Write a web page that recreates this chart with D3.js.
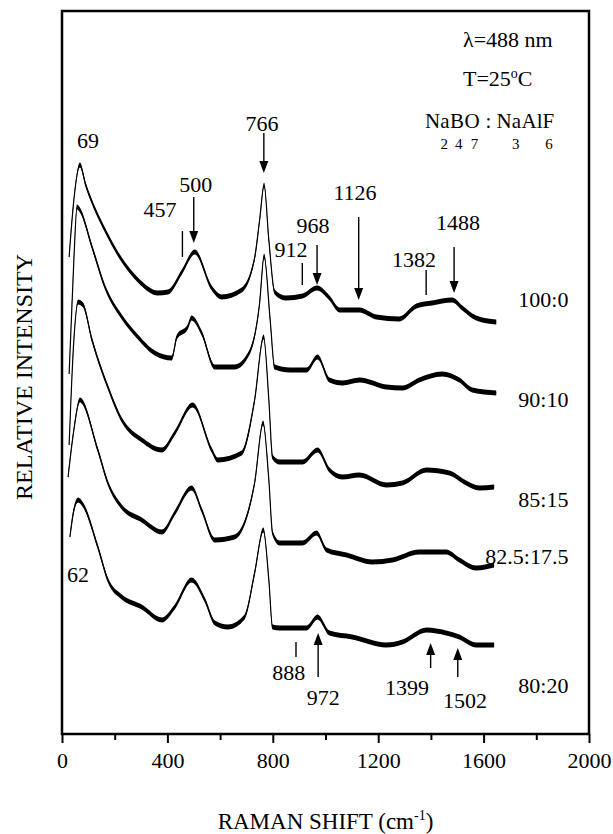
<!DOCTYPE html>
<html>
<head>
<meta charset="utf-8">
<script src="https://cdn.jsdelivr.net/npm/d3@7/dist/d3.min.js"></script>
<style>
  body { margin: 0; background: #fff; }
  svg text { font-family: "Liberation Serif", "Times New Roman", serif; fill: #000; }
</style>
</head>
<body>
<script>
/*
 * Raman spectra of Na2B4O7 : Na3AlF6 melts, stacked traces.
 */

const CANVAS_WIDTH = 613;
const CANVAS_HEIGHT = 834;
const PLOT_LEFT = 62;
const PLOT_RIGHT = 589;
const PLOT_TOP = 11;
const PLOT_BOT = 734;

// x ticks (cm-1)
const MAJOR_TICKS = [0, 400, 800, 1200, 1600, 2000];
const MINOR_TICKS = [200, 600, 1000, 1400, 1800];

// stacked traces: [raman shift (cm-1), relative intensity (offset incl.)]
const trace100 = [
  [27, 477], [45, 534], [68, 569], [90, 549], [130, 522], [163, 504], [227, 474],
  [288, 454], [364, 441], [402, 442], [455, 462], [504, 482], [568, 446], [606, 437],
  [682, 444], [731, 476], [750, 514], [767, 549], [785, 494], [807, 442], [850, 436],
  [913, 438], [968, 446], [1015, 436], [1053, 424], [1129, 424], [1193, 417],
  [1280, 415], [1345, 428], [1405, 431], [1481, 434], [1519, 426], [1572, 416], [1648, 412]
];
const trace90 = [
  [27, 360], [45, 474], [57, 527], [68, 524], [114, 487], [163, 447], [227, 417],
  [288, 397], [352, 381], [417, 376], [436, 397], [477, 407], [492, 416], [530, 401],
  [580, 367], [655, 367], [712, 382], [750, 431], [767, 478], [790, 414], [807, 367],
  [864, 364], [928, 364], [970, 377], [1015, 354], [1064, 351], [1129, 354],
  [1231, 347], [1292, 346], [1356, 354], [1443, 360], [1508, 354], [1557, 344], [1648, 341]
];
const trace85 = [
  [27, 289], [45, 394], [61, 432], [80, 429], [114, 394], [174, 347], [227, 314],
  [303, 294], [379, 284], [428, 301], [496, 329], [568, 284], [591, 274], [682, 281],
  [731, 334], [765, 397], [785, 334], [799, 277], [826, 272], [913, 272], [970, 284],
  [1015, 264], [1064, 257], [1129, 259], [1231, 249], [1292, 251], [1383, 264],
  [1470, 261], [1534, 251], [1583, 246], [1640, 247]
];
const trace82 = [
  [23, 257], [45, 304], [68, 334], [136, 284], [174, 251], [227, 227], [303, 214],
  [379, 202], [428, 221], [492, 246], [530, 224], [580, 194], [655, 197], [705, 221],
  [731, 251], [763, 311], [785, 254], [799, 201], [826, 191], [913, 191], [966, 201],
  [1004, 184], [1080, 179], [1178, 172], [1254, 174], [1356, 182], [1458, 182],
  [1508, 174], [1572, 166], [1640, 169]
];
const trace80 = [
  [30, 197], [45, 224], [61, 234], [80, 229], [136, 187], [174, 154], [227, 137],
  [303, 127], [379, 114], [428, 127], [492, 154], [542, 134], [580, 111], [629, 107],
  [693, 117], [731, 161], [764, 204], [785, 154], [799, 107], [826, 106], [928, 106],
  [970, 117], [1015, 101], [1102, 97], [1231, 89], [1292, 92], [1383, 104],
  [1458, 101], [1508, 97], [1572, 89], [1640, 89]
];

const TRACES = [trace100, trace90, trace85, trace82, trace80];
const TRACE_NAMES = ['100:0', '90:10', '85:15', '82.5:17.5', '80:20'];
const NAME_LEVELS = [427, 327, 227, 170, 41];

// peak marks: wavenumber, label, kind, line top/bottom, label pos (cm-1, intensity)
const PEAK_MARKS = [
  { w: 766, text: '766', kind: 'down', y0: 601, y1: 561, lx: 759, ly: 603 },
  { w: 500, text: '500', kind: 'down', y0: 537, y1: 491, lx: 508, ly: 542 },
  { w: 457, text: '457', kind: 'tick', y0: 503, y1: 477, lx: 372, ly: 517 },
  { w: 912, text: '912', kind: 'tick', y0: 471, y1: 449, lx: 869, ly: 477 },
  { w: 968, text: '968', kind: 'down', y0: 489, y1: 449, lx: 953, ly: 501 },
  { w: 1126, text: '1126', kind: 'down', y0: 517, y1: 434, lx: 1112, ly: 534 },
  { w: 1382, text: '1382', kind: 'tick', y0: 464, y1: 439, lx: 1336, ly: 467 },
  { w: 1488, text: '1488', kind: 'down', y0: 487, y1: 441, lx: 1503, ly: 504 },
  { w: 888, text: '888', kind: 'tick', y0: 92, y1: 77, lx: 861, ly: 54 },
  { w: 972, text: '972', kind: 'up', y0: 101, y1: 57, lx: 991, ly: 29 },
  { w: 1399, text: '1399', kind: 'up', y0: 91, y1: 66, lx: 1309, ly: 39 },
  { w: 1502, text: '1502', kind: 'up', y0: 86, y1: 57, lx: 1529, ly: 26 },
  { w: 69, text: '69', kind: 'none', lx: 99, ly: 586 },
  { w: 62, text: '62', kind: 'none', lx: 61, ly: 152 }
];

const xScale = d3.scaleLinear().domain([0, 2000]).range([PLOT_LEFT, PLOT_RIGHT]);
const yScale = d3.scaleLinear().domain([0, PLOT_BOT - PLOT_TOP]).range([PLOT_BOT, PLOT_TOP]);

const svg = d3.select('body')
  .append('svg')
    .attr('width', CANVAS_WIDTH)
    .attr('height', CANVAS_HEIGHT);

// traces: a vertical band mimics the noisy, thick look of the spectra
const band = d3.area()
    .curve(d3.curveMonotoneX)
    .x(d => xScale(d[0]))
    .y0(d => yScale(d[1]) - 2.6)
    .y1(d => yScale(d[1]) + 2.6);

const line = d3.line()
    .curve(d3.curveMonotoneX)
    .x(d => xScale(d[0]))
    .y(d => yScale(d[1]));

const traces = svg.append('g').attr('id', 'traces');
traces.selectAll('path.band')
  .data(TRACES)
  .enter()
  .append('path')
    .attr('class', 'band')
    .attr('d', band)
    .attr('fill', '#000');
traces.selectAll('path.line')
  .data(TRACES)
  .enter()
  .append('path')
    .attr('class', 'line')
    .attr('d', line)
    .attr('fill', 'none')
    .attr('stroke', '#000')
    .attr('stroke-width', 1.2);

// trace names
svg.append('g')
  .selectAll('text')
  .data(TRACE_NAMES)
  .enter()
  .append('text')
    .attr('x', xScale(1922))
    .attr('y', (d, i) => yScale(NAME_LEVELS[i]))
    .attr('text-anchor', 'end')
    .attr('font-size', 22)
    .text(d => d);

// peak marks
const marks = svg.append('g').attr('id', 'marks');
PEAK_MARKS.forEach(m => {
  const x = xScale(m.w);
  if (m.kind !== 'none') {
    const top = yScale(m.y0), bot = yScale(m.y1);
    let a = top, b = bot;
    if (m.kind === 'down') b = bot - 10;
    if (m.kind === 'up') a = top + 10;
    marks.append('line')
        .attr('x1', x).attr('x2', x)
        .attr('y1', a).attr('y2', b)
        .attr('stroke', '#000')
        .attr('stroke-width', 1.4);
    if (m.kind === 'down') {
      marks.append('path')
          .attr('d', `M${x - 4.5},${bot - 12} L${x + 4.5},${bot - 12} L${x},${bot} Z`)
          .attr('fill', '#000');
    }
    if (m.kind === 'up') {
      marks.append('path')
          .attr('d', `M${x - 4.5},${top + 12} L${x + 4.5},${top + 12} L${x},${top} Z`)
          .attr('fill', '#000');
    }
  }
  marks.append('text')
      .attr('x', xScale(m.lx))
      .attr('y', yScale(m.ly))
      .attr('text-anchor', 'middle')
      .attr('font-size', 22)
      .text(m.text);
});

// x axis (major and minor ticks)
const xAxis = d3.axisBottom(xScale)
    .tickValues(MAJOR_TICKS)
    .tickSize(9)
    .tickPadding(9)
    .tickFormat(d3.format('d'));
const gx = svg.append('g')
    .attr('transform', `translate(0, ${PLOT_BOT})`)
    .call(xAxis);
gx.select('.domain').remove();
gx.selectAll('line').attr('stroke-width', 2);
gx.selectAll('text')
    .attr('font-size', 22)
    .attr('font-family', '"Liberation Serif", "Times New Roman", serif');

const gxMinor = svg.append('g')
    .attr('transform', `translate(0, ${PLOT_BOT})`)
    .call(d3.axisBottom(xScale).tickValues(MINOR_TICKS).tickSize(6).tickFormat(''));
gxMinor.select('.domain').remove();
gxMinor.selectAll('line').attr('stroke-width', 2);

// frame
svg.append('rect')
    .attr('x', PLOT_LEFT)
    .attr('y', PLOT_TOP)
    .attr('width', PLOT_RIGHT - PLOT_LEFT)
    .attr('height', PLOT_BOT - PLOT_TOP)
    .attr('fill', 'none')
    .attr('stroke', '#000')
    .attr('stroke-width', 2.5);

// axis titles
const xt = svg.append('text')
    .attr('x', (PLOT_LEFT + PLOT_RIGHT) / 2)
    .attr('y', 829)
    .attr('text-anchor', 'middle')
    .attr('font-size', 23);
xt.append('tspan').text('RAMAN SHIFT (cm');
xt.append('tspan').attr('font-size', 14).attr('dy', -9).text('-1');
xt.append('tspan').attr('dy', 9).text(')');

svg.append('text')
    .attr('transform', 'translate(32, 377) rotate(-90)')
    .attr('text-anchor', 'middle')
    .attr('font-size', 24)
    .text('RELATIVE INTENSITY');

// conditions
svg.append('text')
    .attr('x', 463).attr('y', 47)
    .attr('font-size', 22)
    .text('\u03bb=488 nm');

const tt = svg.append('text')
    .attr('x', 463).attr('y', 86)
    .attr('font-size', 22);
tt.append('tspan').text('T=25');
tt.append('tspan').attr('font-size', 14).attr('dy', -8).text('o');
tt.append('tspan').attr('dy', 8).text('C');

// composition with low-set subscripts tucked under the previous letter
const comp = svg.append('text')
    .attr('x', 425).attr('y', 128)
    .attr('font-size', 21);
const parts = [['Na', false], ['2', true], ['B', false], ['4', true], ['O', false], ['7', true],
               [' : Na', false], ['3', true], ['AlF', false], ['6', true]];
parts.forEach((p, i) => {
  if (p[1]) {
    comp.append('tspan').attr('font-size', 15).attr('dy', 21).attr('dx', -9).text(p[0]);
  } else {
    comp.append('tspan')
        .attr('dy', i === 0 ? 0 : -21)
        .attr('dx', i === 0 ? 0 : 2)
        .text(p[0]);
  }
});
</script>
</body>
</html>
